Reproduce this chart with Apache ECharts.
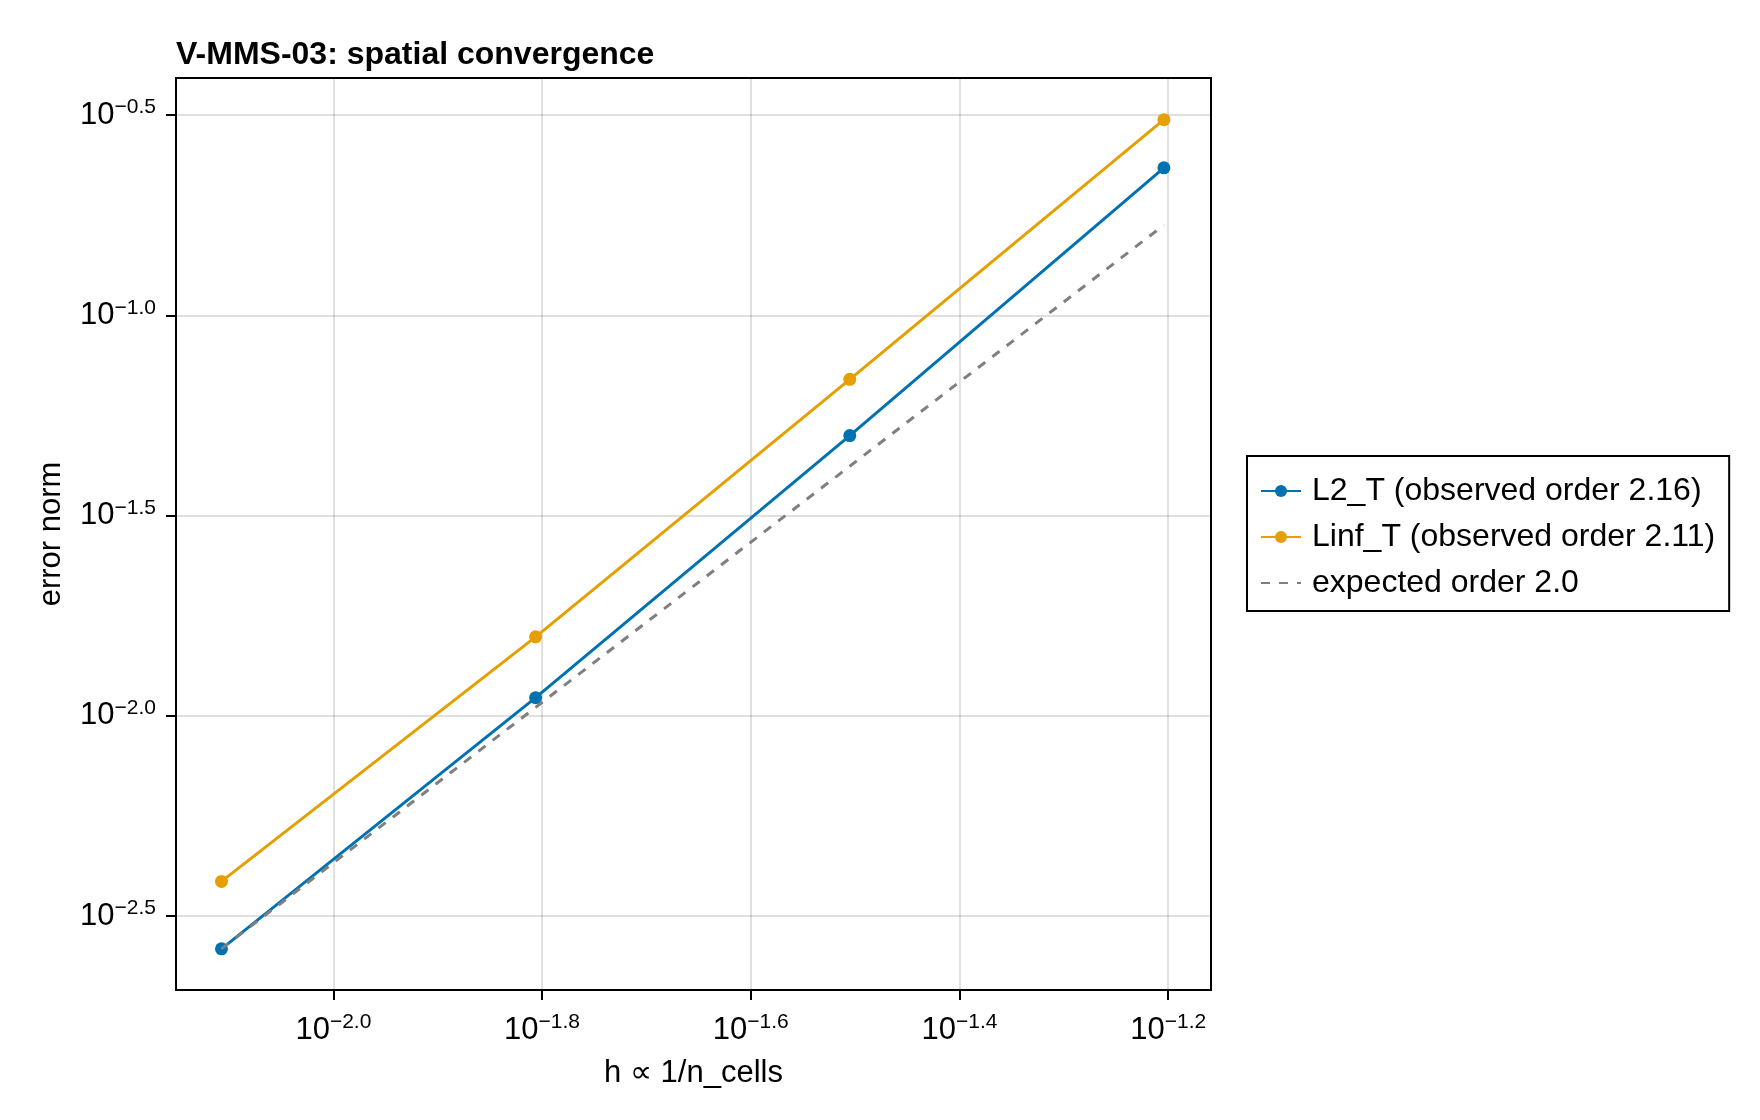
<!DOCTYPE html>
<html>
<head>
<meta charset="utf-8">
<script src="https://cdn.jsdelivr.net/npm/echarts@6/dist/echarts.min.js"></script>
<style>
  html, body { margin: 0; padding: 0; background: #fff; }
  #chart_conv { width: 1760px; height: 1120px; }
</style>
</head>
<body>
<div id="chart_conv"></div>
<script>
  // grid spacing h = 1/n_cells for n_cells = 128, 64, 32, 16
  let hValues = [0.0078125, 0.015625, 0.03125, 0.0625]
  let l2T = [0.00262, 0.0111, 0.0501, 0.2335]
  let linfT = [0.00386, 0.01575, 0.0692, 0.308]
  let expected = [0.00262, 0.0105, 0.042, 0.168]
  let xTicks = [-2.0, -1.8, -1.6, -1.4, -1.2]
  let yTicks = [-2.5, -2.0, -1.5, -1.0, -0.5]
  let seriesNames = ['L2_T (observed order 2.16)', 'Linf_T (observed order 2.11)', 'expected order 2.0']

  let font = 'Liberation Sans, Arial, sans-serif'

  function toLog (ys) {
    return hValues.map((h, i) => {
      return [Math.log10(h), Math.log10(ys[i])]
    })
  }

  function powLabel (v) {
    return '{b|10}{s|' + v.toFixed(1).replace('-', '\u2212') + '}'
  }

  let labelRich = {
    b: { fontSize: 31, fontFamily: font, color: '#000' },
    s: { fontSize: 21, fontFamily: font, color: '#000', padding: [0, 0, 15, 0] }
  }

  let chart = echarts.init(document.getElementById('chart_conv'))
  let options = {
    animation: false,
    backgroundColor: '#fff',
    title: {
      text: 'V-MMS-03: spatial convergence',
      left: 171,
      top: 34,
      textStyle: { fontSize: 32, fontWeight: 'bold', fontFamily: font, color: '#000' }
    },
    legend: {
      orient: 'vertical',
      left: 1247,
      top: 456,
      padding: [17, 14, 10, 13],
      itemGap: 10,
      itemWidth: 40,
      itemHeight: 15,
      borderColor: '#000',
      borderWidth: 2,
      textStyle: { fontSize: 32, lineHeight: 36, fontFamily: font, color: '#000', padding: [0, 0, 0, 6] },
      data: [
        { name: seriesNames[0] },
        { name: seriesNames[1] },
        { name: seriesNames[2], itemStyle: { opacity: 0 } }
      ]
    },
    grid: {
      left: 176,
      top: 78,
      width: 1035,
      height: 912,
      show: true,
      borderColor: '#000',
      borderWidth: 2
    },
    xAxis: {
      type: 'value',
      min: -2.1508,
      max: -1.159,
      name: 'h \u221d 1/n_cells',
      nameLocation: 'middle',
      nameGap: 68,
      nameTextStyle: { fontSize: 31, fontFamily: font, color: '#000' },
      axisLine: { show: true, onZero: false, lineStyle: { color: '#000', width: 2 } },
      axisTick: { show: true, length: 10, customValues: xTicks, lineStyle: { color: '#000', width: 2 } },
      axisLabel: { customValues: xTicks, margin: 22, formatter: powLabel, rich: labelRich },
      splitLine: { show: true, customValues: xTicks, lineStyle: { color: 'rgba(0,0,0,0.12)', width: 2 } }
    },
    yAxis: {
      type: 'value',
      min: -2.6845,
      max: -0.4075,
      name: 'error norm',
      nameLocation: 'middle',
      nameGap: 109,
      nameRotate: 90,
      nameTextStyle: { fontSize: 31, fontFamily: font, color: '#000' },
      axisLine: { show: true, onZero: false, lineStyle: { color: '#000', width: 2 } },
      axisTick: { show: true, length: 10, customValues: yTicks, lineStyle: { color: '#000', width: 2 } },
      axisLabel: { customValues: yTicks, margin: 20, formatter: powLabel, rich: labelRich },
      splitLine: { show: true, customValues: yTicks, lineStyle: { color: 'rgba(0,0,0,0.12)', width: 2 } }
    },
    series: [
      {
        name: seriesNames[0],
        type: 'line',
        data: toLog(l2T),
        symbol: 'circle',
        symbolSize: 13,
        color: '#0072b2',
        lineStyle: { width: 3 },
        z: 3
      },
      {
        name: seriesNames[1],
        type: 'line',
        data: toLog(linfT),
        symbol: 'circle',
        symbolSize: 13,
        color: '#e69f00',
        lineStyle: { width: 3 },
        z: 3
      },
      {
        name: seriesNames[2],
        type: 'line',
        data: toLog(expected),
        symbol: 'none',
        color: '#7f7f7f',
        lineStyle: { width: 3, type: [9, 9] },
        z: 4
      }
    ]
  }
  chart.setOption(options)
</script>
</body>
</html>
